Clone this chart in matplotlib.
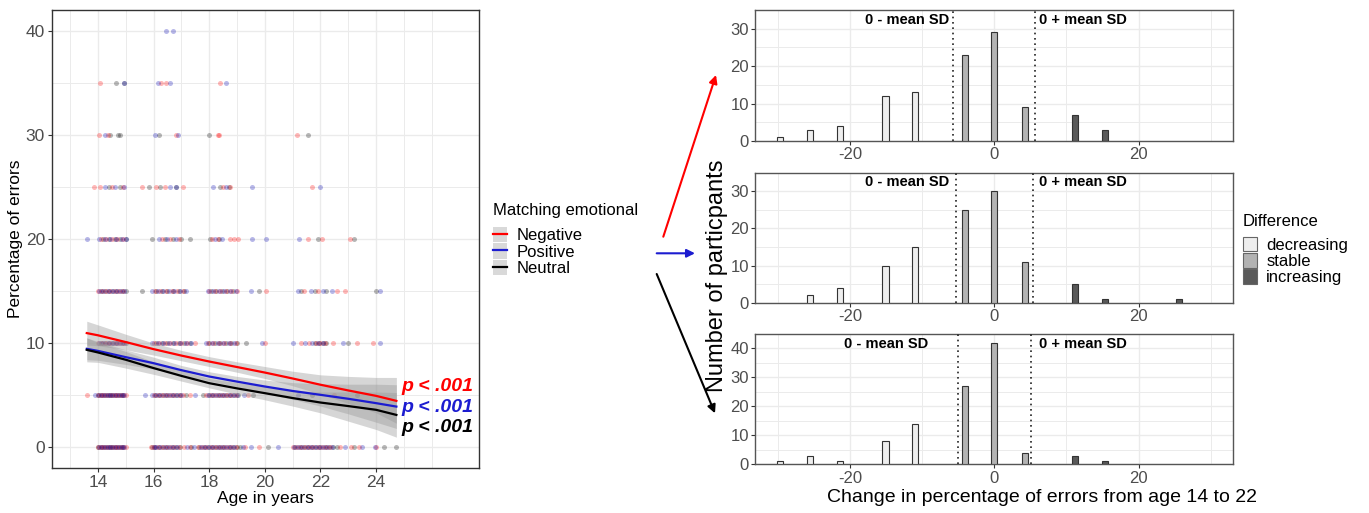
import matplotlib
matplotlib.use("Agg")
import matplotlib.pyplot as plt
from matplotlib.patches import Patch, FancyArrowPatch
from matplotlib.lines import Line2D
from matplotlib.legend_handler import HandlerTuple
import matplotlib.transforms as mtransforms

plt.rcParams['font.family'] = ['Liberation Sans', 'DejaVu Sans']
plt.rcParams['axes.unicode_minus'] = False

# ---- left panel: single trials (age, % errors), one dict per emotion, keyed by error level
neg_pts = {
    0: [14.0, 14.1, 14.2, 14.3, 14.4, 14.5, 14.6, 14.7, 14.8, 14.9, 15.0, 15.9, 16.0, 16.15, 16.3, 16.45,
        16.6, 16.75, 16.9, 17.1, 17.3, 17.6, 17.75, 17.9, 18.05, 18.2, 18.35, 18.5, 18.65, 18.8, 18.95,
        19.3, 19.8, 21.0, 21.15, 21.3, 21.45, 21.6, 21.75, 21.9, 22.05, 22.2, 22.35, 22.7, 23.1, 23.4, 24.0],
    5: [13.6, 14.0, 14.1, 14.2, 14.3, 14.4, 14.5, 14.6, 14.7, 14.8, 14.9, 15.0, 16.0, 16.15, 16.3, 16.45,
        16.6, 16.75, 16.9, 17.05, 17.3, 17.9, 18.05, 18.2, 18.35, 18.5, 18.65, 18.8, 18.95, 19.4, 22.5],
    10: [14.0, 14.15, 14.3, 14.45, 14.6, 14.75, 14.9, 16.0, 16.2, 16.4, 16.6, 16.8, 17.0, 17.2, 17.48,
         17.95, 18.15, 18.35, 18.55, 18.75, 18.95, 20.0, 21.3, 21.6, 21.85, 22.0, 22.15, 22.45, 23.3, 23.9],
    15: [14.0, 14.15, 14.3, 14.45, 14.6, 14.75, 14.9, 16.05, 16.25, 16.45, 16.65, 16.85, 17.05, 18.0,
         18.2, 18.4, 18.6, 18.8, 19.0, 20.06, 21.4, 21.9, 22.6, 22.9],
    20: [14.1, 14.3, 14.5, 14.7, 14.9, 16.3, 16.6, 16.9, 18.1, 18.3, 18.74, 18.9, 19.05, 21.55, 22.07, 23.05],
    25: [13.86, 14.07, 14.5, 14.9, 15.6, 16.1, 16.4, 17.06, 18.5, 18.75, 21.7],
    30: [14.04, 14.36, 16.82, 18.3, 18.34, 21.16],
    35: [14.09, 16.28, 16.46, 18.38],
}
pos_pts = {
    0: [14.05, 14.15, 14.25, 14.35, 14.45, 14.55, 14.65, 14.75, 14.85, 14.95, 16.0, 16.1, 16.25, 16.4,
        16.55, 16.7, 16.85, 17.2, 17.45, 17.7, 17.85, 18.0, 18.15, 18.3, 18.45, 18.6, 18.75, 18.9, 19.2,
        19.5, 20.47, 21.05, 21.2, 21.35, 21.5, 21.65, 21.8, 21.95, 22.1, 22.25, 22.4, 22.9, 23.5, 23.95],
    5: [13.88, 14.05, 14.15, 14.25, 14.35, 14.45, 14.55, 14.65, 14.75, 14.85, 14.95, 15.68, 15.95, 16.1,
        16.25, 16.4, 16.55, 16.7, 16.85, 17.0, 17.5, 17.95, 18.1, 18.25, 18.4, 18.55, 18.7, 18.85, 19.0,
        19.25, 21.2],
    10: [14.05, 14.2, 14.35, 14.5, 14.65, 14.8, 14.95, 15.95, 16.15, 16.35, 16.55, 16.75, 16.95, 17.15,
         17.35, 17.9, 18.1, 18.3, 18.5, 18.7, 18.9, 19.9, 21.0, 21.45, 21.7, 21.9, 22.1, 22.8, 24.15],
    15: [14.05, 14.2, 14.35, 14.5, 14.65, 14.8, 14.95, 15.95, 16.15, 16.35, 16.55, 16.75, 16.95, 17.15,
         17.95, 18.15, 18.35, 18.55, 18.75, 18.95, 19.5, 21.2, 21.65, 22.1, 22.4, 24.15],
    20: [13.6, 14.05, 14.25, 14.45, 14.65, 14.85, 15.0, 16.2, 16.5, 16.8, 18.2, 18.45, 19.54, 20.06, 21.23],
    25: [14.25, 14.6, 14.95, 16.58, 16.82, 18.14, 18.6, 19.55, 21.99],
    30: [14.24, 16.04, 16.89],
    35: [14.94, 16.16, 16.58, 18.62],
    40: [16.46, 16.70],
}
neu_pts = {
    0: [14.02, 14.12, 14.22, 14.32, 14.42, 14.52, 14.62, 14.72, 14.82, 14.92, 15.95, 16.05, 16.2, 16.35,
        16.5, 16.65, 16.8, 16.95, 17.35, 17.65, 17.8, 17.95, 18.1, 18.25, 18.4, 18.55, 18.7, 18.85, 19.0,
        19.1, 20.1, 21.1, 21.25, 21.4, 21.55, 21.7, 21.85, 22.0, 22.15, 22.3, 22.45, 22.6, 23.2, 24.3, 24.73],
    5: [14.02, 14.12, 14.22, 14.32, 14.42, 14.52, 14.62, 14.72, 14.82, 14.92, 16.05, 16.2, 16.35, 16.5,
        16.65, 16.8, 16.95, 17.18, 17.78, 18.0, 18.15, 18.3, 18.45, 18.6, 18.75, 18.9, 19.04, 19.56, 21.7, 23.3],
    10: [14.1, 14.25, 14.4, 14.55, 14.7, 14.85, 15.0, 16.1, 16.3, 16.5, 16.7, 16.9, 17.1, 17.3, 18.0,
         18.2, 18.4, 18.6, 18.8, 19.0, 19.34, 21.8, 21.95, 22.1, 22.2, 23.0],
    15: [14.1, 14.25, 14.4, 14.55, 14.7, 14.85, 15.0, 15.57, 16.1, 16.3, 16.5, 16.7, 16.9, 17.1, 18.05,
         18.25, 18.45, 18.65, 18.85, 19.8, 21.3, 21.8, 22.2, 24.0],
    20: [14.2, 14.4, 14.6, 14.8, 15.0, 15.96, 16.4, 16.7, 17.0, 17.32, 18.04, 18.35, 21.9, 23.2],
    25: [14.4, 14.8, 15.84, 16.25, 16.8, 18.4, 18.7],
    30: [14.42, 14.72, 14.78, 16.18, 18.0, 21.55],
    35: [14.64, 14.94],
}

# smoothed fits with confidence bands
fit_age = [13.6, 14, 15, 16, 17, 18, 19, 20, 21, 22, 23, 24, 24.73]
neg_fit = [10.96, 10.75, 10.1, 9.42, 8.8, 8.23, 7.7, 7.17, 6.6, 6.0, 5.45, 4.93, 4.45]
neg_lo = [9.8, 9.75, 9.35, 8.85, 8.3, 7.75, 7.2, 6.6, 5.9, 5.1, 4.2, 3.3, 2.3]
neg_hi = [12.1, 11.75, 10.85, 10.0, 9.3, 8.7, 8.2, 7.75, 7.3, 6.95, 6.8, 6.7, 6.7]
pos_fit = [9.45, 9.25, 8.65, 8.07, 7.4, 6.79, 6.3, 5.83, 5.4, 5.03, 4.65, 4.23, 3.9]
pos_lo = [8.4, 8.35, 7.95, 7.5, 6.95, 6.35, 5.8, 5.2, 4.6, 3.95, 3.2, 2.4, 1.8]
pos_hi = [10.5, 10.15, 9.35, 8.65, 7.85, 7.25, 6.8, 6.45, 6.2, 6.1, 6.05, 6.05, 6.0]
neu_fit = [9.35, 9.1, 8.4, 7.6, 6.85, 6.15, 5.65, 5.19, 4.72, 4.29, 3.95, 3.59, 3.1]
neu_lo = [8.2, 8.15, 7.6, 7.0, 6.35, 5.7, 5.1, 4.55, 3.95, 3.3, 2.5, 1.7, 0.96]
neu_hi = [10.5, 10.05, 9.2, 8.2, 7.35, 6.6, 6.2, 5.85, 5.5, 5.3, 5.3, 5.3, 5.25]

emotions = ['Negative', 'Positive', 'Neutral']
p_labels = ['p < .001', 'p < .001', 'p < .001']
p_y = [5.8, 3.85, 1.9]

# ---- right panels: histogram of change from 14 to 22
change_bins = [-29.7, -25.6, -21.4, -15.1, -11.0, -4.1, 0.0, 4.2, 11.2, 15.3, 25.6]
change_group = ['decreasing'] * 5 + ['stable'] * 3 + ['increasing'] * 3
neg_counts = [1, 3, 4, 12, 13, 23, 29, 9, 7, 3, 0]
pos_counts = [0, 2, 4, 10, 15, 25, 30, 11, 5, 1, 1]
neu_counts = [1, 3, 1, 8, 14, 27, 42, 4, 3, 1, 0]
mean_sd = [5.7, 5.35, 5.1]
groups = ['decreasing', 'stable', 'increasing']

W, H = 1369, 513
fig = plt.figure(figsize=(W / 100, H / 100), dpi=100)


def fx(x):
    return x / W


def fy(y):
    return 1 - y / H


line_cols = {'Negative': '#ff0000', 'Positive': '#1c1cd0', 'Neutral': '#000000'}
point_cols = {'Negative': '#ff0000', 'Positive': '#0000b0', 'Neutral': '#000000'}
fill_cols = {'decreasing': '#eeeeee', 'stable': '#b3b3b3', 'increasing': '#595959'}

# ---------------- left panel
ax = fig.add_axes([fx(52), fy(468), fx(427), 458 / H])
ax.set_xlim(12.35, 27.7)
ax.set_ylim(-2, 42)
ax.set_xticks([14, 16, 18, 20, 22, 24])
ax.set_xticks([13, 15, 17, 19, 21, 23, 25, 26], minor=True)
ax.set_yticks([0, 10, 20, 30, 40])
ax.set_yticks([5, 15, 25, 35], minor=True)
ax.grid(True, which='major', color='#ebebeb', lw=1.0)
ax.grid(True, which='minor', color='#ebebeb', lw=0.7)
ax.set_axisbelow(True)
ax.tick_params(which='major', length=3, color='#333333', labelsize=12.5, labelcolor='#4d4d4d', pad=2)
ax.tick_params(which='minor', length=0)
for s in ax.spines.values():
    s.set_color('#333333')
    s.set_linewidth(1.0)
ax.set_xlabel('Age in years', fontsize=12.5, labelpad=1)
ax.set_ylabel('Percentage of errors', fontsize=12.5, labelpad=2)

for name, pts in zip(['Neutral', 'Negative', 'Positive'], [neu_pts, neg_pts, pos_pts]):
    for lvl, ages in pts.items():
        ax.scatter(ages, [lvl] * len(ages), s=13, color=point_cols[name], alpha=0.28, lw=0, zorder=2)

for lo, hi in [(neg_lo, neg_hi), (pos_lo, pos_hi), (neu_lo, neu_hi)]:
    ax.fill_between(fit_age, lo, hi, color='#999999', alpha=0.4, lw=0, zorder=3)

for name, fit in zip(emotions, [neg_fit, pos_fit, neu_fit]):
    ax.plot(fit_age, fit, color=line_cols[name], lw=1.6, zorder=4)

for name, lab, yy in zip(emotions, p_labels, p_y):
    ax.text(24.9, yy, lab, color=line_cols[name], fontsize=14, fontweight='bold',
            fontstyle='italic', va='center', ha='left', zorder=5)

# left legend (title drawn separately to get the ggplot spacing)
fig.text(fx(493), fy(211), 'Matching emotional', fontsize=12, ha='left', va='center')
handles = [(Patch(facecolor='#d9d9d9', edgecolor='none'), Line2D([], [], color=line_cols[n], lw=1.6))
           for n in emotions]
fig.legend(handles, emotions, handler_map={tuple: HandlerTuple(ndivide=1)},
           loc='upper left', bbox_to_anchor=(fx(493), fy(227)), frameon=False, fontsize=12,
           borderpad=0, borderaxespad=0, labelspacing=0.0, handlelength=0.85, handleheight=1.05,
           handletextpad=0.55)

# ---------------- right panels
panel_rows = [(10, 141), (172.7, 302.7), (334, 464.3)]
panel_top = [35, 35, 45]
panel_ticks = [[0, 10, 20, 30], [0, 10, 20, 30], [0, 10, 20, 30, 40]]
minus_x = [-6.3, -6.3, -9.2]
plus_x = [6.2, 6.2, 6.2]
for i, counts in enumerate([neg_counts, pos_counts, neu_counts]):
    y0, y1 = panel_rows[i]
    axr = fig.add_axes([fx(755), fy(y1), fx(478), (y1 - y0) / H])
    xs = [b for b, c in zip(change_bins, counts) if c > 0]
    hs = [c for c in counts if c > 0]
    cs = [fill_cols[g] for g, c in zip(change_group, counts) if c > 0]
    axr.bar(xs, hs, width=0.85, color=cs, edgecolor='#333333', lw=0.8, zorder=3)
    axr.set_xlim(-33.2, 33.1)
    axr.set_ylim(0, panel_top[i])
    axr.set_xticks([-20, 0, 20])
    axr.set_xticks([-30, -10, 10, 30], minor=True)
    axr.set_yticks(panel_ticks[i])
    axr.set_yticks([t + 5 for t in panel_ticks[i] if t + 5 < panel_top[i]], minor=True)
    axr.grid(True, which='major', color='#ebebeb', lw=1.0)
    axr.grid(True, which='minor', color='#ebebeb', lw=0.7)
    axr.set_axisbelow(True)
    axr.tick_params(which='major', length=3, color='#333333', labelsize=12, labelcolor='#4d4d4d', pad=1.5)
    axr.tick_params(which='minor', length=0)
    for s in axr.spines.values():
        s.set_color('#555555')
        s.set_linewidth(1.0)
    for v in (-mean_sd[i], mean_sd[i]):
        axr.axvline(v, color='#222222', ls=(0, (1, 2.2)), lw=1.2, zorder=4)
    tr = mtransforms.blended_transform_factory(axr.transData, axr.transAxes)
    axr.text(minus_x[i], 0.925, '0 - mean SD', transform=tr, ha='right', va='center',
             fontsize=10.5, fontweight='bold')
    axr.text(plus_x[i], 0.925, '0 + mean SD', transform=tr, ha='left', va='center',
             fontsize=10.5, fontweight='bold')

fig.text(fx(717), fy(276), 'Number of particpants', rotation=90, ha='center', va='center', fontsize=17)
fig.text(fx(1042), fy(497), 'Change in percentage of errors from age 14 to 22', ha='center', va='center',
         fontsize=14)

fig.text(fx(1243), fy(221.5), 'Difference', fontsize=12, ha='left', va='center')
diff_handles = [Patch(facecolor=fill_cols[g], edgecolor='#666666', lw=0.8) for g in groups]
fig.legend(diff_handles, groups, loc='upper left', bbox_to_anchor=(fx(1243), fy(236.5)), frameon=False,
           fontsize=12, borderpad=0, borderaxespad=0, labelspacing=0.0, handlelength=0.85,
           handleheight=1.0, handletextpad=0.55)

# arrows linking the left panel to the three histograms
arrows = [((663.3, 236.7), (716, 75), '#ff0000'),
          ((656.7, 253.3), (695, 253.3), '#1c1cd0'),
          ((656.7, 274), (715, 413.3), '#000000')]
for (xa, ya), (xb, yb), col in arrows:
    fig.add_artist(FancyArrowPatch((fx(xa), fy(ya)), (fx(xb), fy(yb)), transform=fig.transFigure,
                                   arrowstyle='-|>', mutation_scale=12, color=col, lw=1.5,
                                   shrinkA=0, shrinkB=0))

fig.savefig('out.png', dpi=100)
